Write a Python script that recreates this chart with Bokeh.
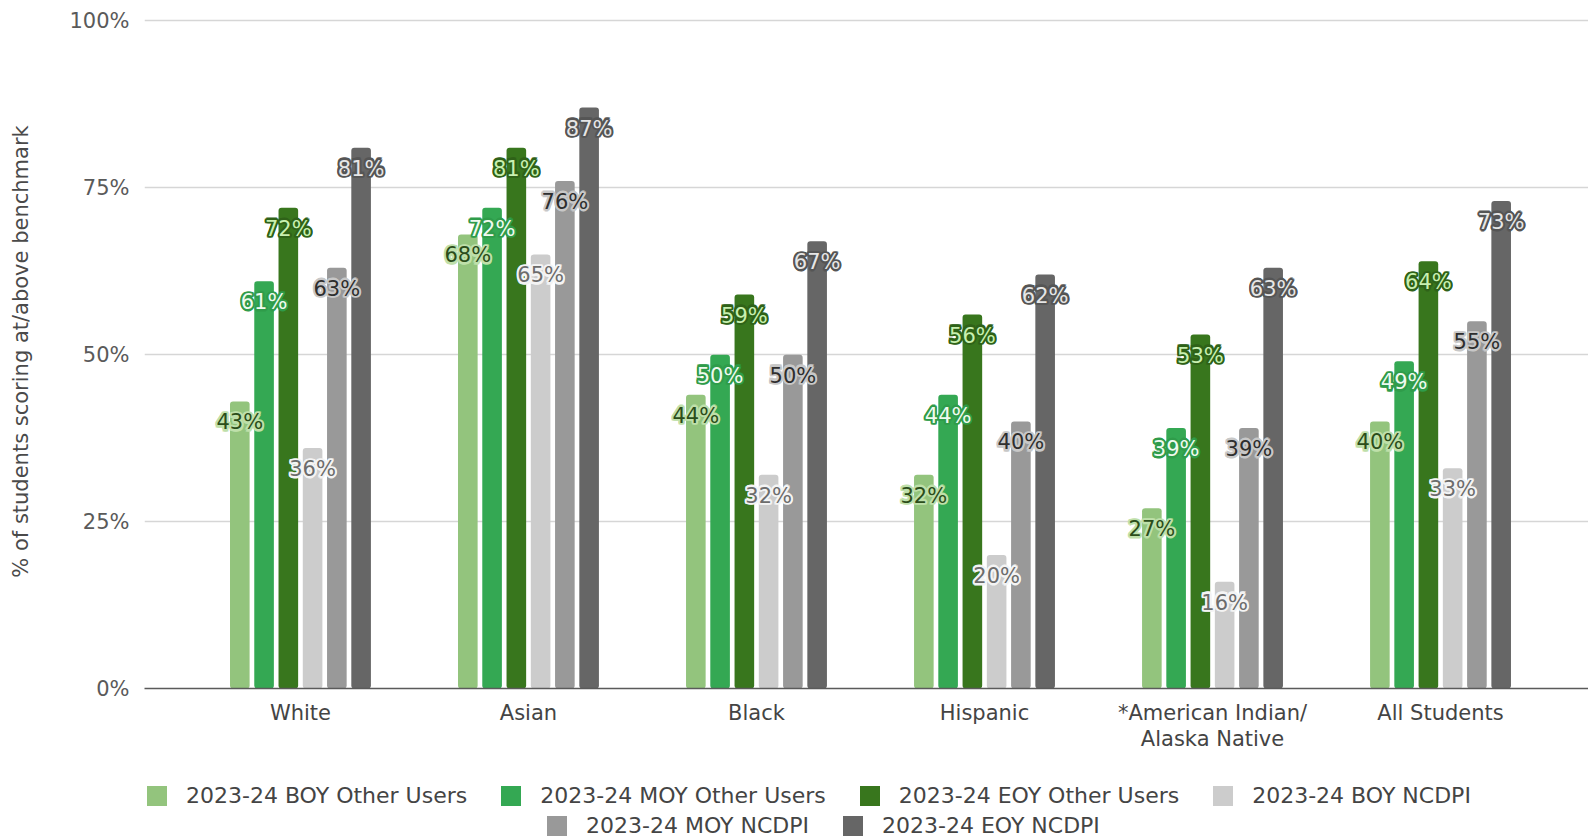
import numpy as np
from bokeh.plotting import figure
from bokeh.layouts import column
from bokeh.models import Range1d, FixedTicker, PrintfTickFormatter, Legend, LegendItem, ColumnDataSource
from bokeh.core.properties import value
from bokeh.embed import file_html
from bokeh.resources import INLINE

categories = ["White", "Asian", "Black", "Hispanic", "*American Indian/\nAlaska Native", "All Students"]
series_names = ["2023-24 BOY Other Users", "2023-24 MOY Other Users", "2023-24 EOY Other Users",
                "2023-24 BOY NCDPI", "2023-24 MOY NCDPI", "2023-24 EOY NCDPI"]
boy_other = [43, 68, 44, 32, 27, 40]
moy_other = [61, 72, 50, 44, 39, 49]
eoy_other = [72, 81, 59, 56, 53, 64]
boy_ncdpi = [36, 65, 32, 20, 16, 33]
moy_ncdpi = [63, 76, 50, 40, 39, 55]
eoy_ncdpi = [81, 87, 67, 62, 63, 73]
y_ticks = [0, 25, 50, 75, 100]
y_title = "% of students scoring at/above benchmark"

series_values = [boy_other, moy_other, eoy_other, boy_ncdpi, moy_ncdpi, eoy_ncdpi]
bar_colors = ["#93c47d", "#34a853", "#38761d", "#cccccc", "#999999", "#666666"]
label_colors = ["#2b4d1a", "#effaef", "#c8f0b0", "#6c6c6c", "#2e2e2e", "#e6e6e6"]
label_halos = ["#bfe0aa", "#2f9c4a", "#2f6218", "#f4f4f4", "#c8c8c8", "#555555"]

FONT = "DejaVu Sans"
pitch = 0.1064
bar_w = 0.086

p = figure(width=1588, height=770, output_backend="svg", toolbar_location=None,
           x_range=Range1d(-0.684, 5.649), y_range=Range1d(0, 100.94),
           min_border_left=144, min_border_right=0, min_border_top=14, min_border_bottom=82)
p.outline_line_color = None
p.background_fill_color = "white"
p.border_fill_color = "white"

idx = np.arange(len(categories))
bar_sources = []
for j, vals in enumerate(series_values):
    xs = idx + (j - 2.5) * pitch
    src = ColumnDataSource(dict(x=xs, top=vals))
    bar_sources.append(src)
    p.vbar(x="x", top="top", bottom=0, width=bar_w, source=src,
           fill_color=bar_colors[j], line_color=None, border_radius=3)

halo_offsets = [(1.6, 0), (-1.6, 0), (0, 1.6), (0, -1.6), (1.2, 1.2), (-1.2, 1.2), (1.2, -1.2), (-1.2, -1.2)]
for j, vals in enumerate(series_values):
    xs = idx + (j - 2.5) * pitch
    src = ColumnDataSource(dict(x=xs, y=vals, t=[f"{v}%" for v in vals]))
    common = dict(x="x", y="y", text="t", source=src, text_align="center", text_baseline="middle",
                  text_font=value(FONT), text_font_size="21px")
    for dx, dy in halo_offsets:
        p.text(x_offset=dx, y_offset=21 + dy, text_color=label_halos[j],
               text_outline_color=label_halos[j], **common)
    p.text(y_offset=21, text_color=label_colors[j], **common)

# axes
p.xaxis.ticker = FixedTicker(ticks=list(range(len(categories))))
p.xaxis.major_label_overrides = {i: c for i, c in enumerate(categories)}
p.xaxis.major_tick_line_color = None
p.xaxis.minor_tick_line_color = None
p.xaxis.axis_line_color = "#5a5a5a"
p.xaxis.axis_line_width = 1.5
p.xaxis.major_label_standoff = 6
p.xaxis.major_label_text_font = FONT
p.xaxis.major_label_text_font_size = "21px"
p.xaxis.major_label_text_line_height = 1.1
p.xaxis.major_label_text_color = "#444444"

p.yaxis.ticker = FixedTicker(ticks=y_ticks)
p.yaxis.formatter = PrintfTickFormatter(format="%d%%")
p.yaxis.major_tick_line_color = None
p.yaxis.minor_tick_line_color = None
p.yaxis.axis_line_color = None
p.yaxis.major_label_standoff = 9
p.yaxis.major_label_text_font = FONT
p.yaxis.major_label_text_font_size = "21px"
p.yaxis.major_label_text_color = "#5a5a5a"
p.yaxis.axis_label = y_title
p.yaxis.axis_label_standoff = 33
p.yaxis.axis_label_text_font = FONT
p.yaxis.axis_label_text_font_size = "21px"
p.yaxis.axis_label_text_font_style = "normal"
p.yaxis.axis_label_text_color = "#4a4a4a"

p.xgrid.grid_line_color = None
p.ygrid.ticker = FixedTicker(ticks=y_ticks)
p.ygrid.grid_line_color = "#d6d6d6"
p.ygrid.grid_line_width = 1.5

# legend strip (separate figure below the chart; its frame aligns with the chart frame)
lg = figure(width=1588, height=70, output_backend="svg", toolbar_location=None,
            x_range=Range1d(0, 1), y_range=Range1d(0, 1),
            x_axis_location=None, y_axis_location=None,
            min_border_left=0, min_border_right=0, min_border_top=0, min_border_bottom=0)
lg.outline_line_color = None
lg.xgrid.visible = False
lg.ygrid.visible = False
proxies = []
for j in range(6):
    r = lg.vbar(x="x", top="top", width=bar_w, source=bar_sources[j],
                fill_color=bar_colors[j], line_color=None)
    r.visible = False
    proxies.append(r)
items = [LegendItem(label=series_names[j], renderers=[proxies[j]], index=0) for j in range(6)]

def make_legend(its, loc):
    return Legend(items=its, location=loc, orientation="horizontal",
                  glyph_width=25, glyph_height=25, label_height=22, label_standoff=17, spacing=31,
                  padding=0, margin=0, border_line_alpha=0, background_fill_alpha=0,
                  label_text_font=FONT, label_text_font_size="22px", label_text_color="#444444")

lg.add_layout(make_legend(items[:4], (0, 32)))
lg.add_layout(make_legend(items[4:], (400, 2)))

layout = column(p, lg, spacing=0)
open("out.html", "w").write(file_html(layout, INLINE))
